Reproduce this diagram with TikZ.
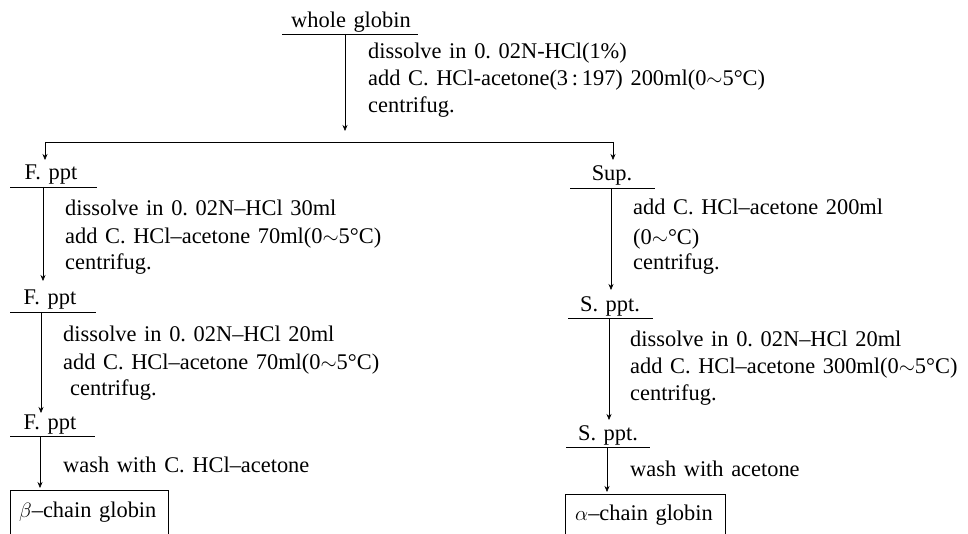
\documentclass[tikz,border=0pt]{standalone}
\usepackage{fontspec}
\setmainfont{Liberation Serif}
\usetikzlibrary{arrows.meta}
\newcommand\fsz{\fontsize{22.4}{26}\selectfont\frenchspacing\spaceskip=0.34em plus 0.1em\relax}
\tikzset{
  ttl/.style={font=\fsz, inner sep=0pt, anchor=base},
  stp/.style={font=\fsz, inner sep=0pt, anchor=base west},
  ln/.style={line width=0.6pt, black},
  arr/.style={ln, -{Stealth[length=6pt,width=5pt]}},
}
\begin{document}
\begin{tikzpicture}[x=1pt,y=-1pt]
\useasboundingbox (0,0) rectangle (968,534);

% ---- top ----
\node[ttl] (wg) at (351,28) {whole globin};
\coordinate (wgL) at (282,34); \coordinate (wgR) at (418,34);
\draw[ln] (wgL) -- (wgR);
\coordinate (a0s) at (345,34); \coordinate (a0e) at (345,131);
\draw[arr] (a0s) -- (a0e);
\node[stp] (t1) at (368,59) {dissolve in 0. 02N-HCl(1\%)};
\node[stp] (t2) at (368,86) {add C. HCl-acetone(3\,:\,197) 200ml(0$\sim$5°C)};
\node[stp] (t3) at (368,113) {centrifug.};

\coordinate (hL) at (45,142); \coordinate (hR) at (613,142);
\draw[ln] (hL) -- (hR);
\coordinate (hLe) at (45,160); \coordinate (hRe) at (613,160);
\draw[arr] (hL) -- (hLe);
\draw[arr] (hR) -- (hRe);

% ---- left column ----
\node[ttl] (f1) at (51,180) {F. ppt};
\coordinate (f1L) at (10,187); \coordinate (f1R) at (97,187);
\draw[ln] (f1L) -- (f1R);
\coordinate (a1s) at (43,187); \coordinate (a1e) at (43,281);
\draw[arr] (a1s) -- (a1e);
\node[stp] (l1) at (65,216) {dissolve in 0. 02N–HCl 30ml};
\node[stp] (l2) at (65,244) {add C. HCl–acetone 70ml(0$\sim$5°C)};
\node[stp] (l3) at (65,270) {centrifug.};

\node[ttl] (f2) at (50,305) {F. ppt};
\coordinate (f2L) at (10,312); \coordinate (f2R) at (96,312);
\draw[ln] (f2L) -- (f2R);
\coordinate (a2s) at (41,312); \coordinate (a2e) at (41,413);
\draw[arr] (a2s) -- (a2e);
\node[stp] (l4) at (63,341) {dissolve in 0. 02N–HCl 20ml};
\node[stp] (l5) at (63,369) {add C. HCl–acetone 70ml(0$\sim$5°C)};
\node[stp] (l6) at (70,395) {centrifug.};

\node[ttl] (f3) at (50,429) {F. ppt};
\coordinate (f3L) at (10,436); \coordinate (f3R) at (95,436);
\draw[ln] (f3L) -- (f3R);
\coordinate (a3s) at (40,436); \coordinate (a3e) at (40,488);
\draw[arr] (a3s) -- (a3e);
\node[stp] (l7) at (63,472) {wash with C. HCl–acetone};

\node[stp] (beta) at (19,517) {$\beta$–chain globin};
\coordinate (bTL) at (10,490); \coordinate (bTR) at (168,490);
\coordinate (bBL) at (10,534); \coordinate (bBR) at (168,534);
\draw[ln] (bBL) -- (bTL) -- (bTR) -- (bBR);

% ---- right column ----
\node[ttl] (s0) at (612,181) {Sup.};
\coordinate (s0L) at (570,188); \coordinate (s0R) at (655,188);
\draw[ln] (s0L) -- (s0R);
\coordinate (b1s) at (611,188); \coordinate (b1e) at (611,290);
\draw[arr] (b1s) -- (b1e);
\node[stp] (r1) at (633,215) {add C. HCl–acetone 200ml};
\node[stp] (r2) at (633,245) {(0$\sim$°C)};
\node[stp] (r3) at (633,270) {centrifug.};

\node[ttl] (s1) at (610,311) {S. ppt.};
\coordinate (s1L) at (568,318); \coordinate (s1R) at (653,318);
\draw[ln] (s1L) -- (s1R);
\coordinate (b2s) at (609,318); \coordinate (b2e) at (609,420);
\draw[arr] (b2s) -- (b2e);
\node[stp] (r4) at (630,346) {dissolve in 0. 02N–HCl 20ml};
\node[stp] (r5) at (630,373) {add C. HCl–acetone 300ml(0$\sim$5°C)};
\node[stp] (r6) at (630,400) {centrifug.};

\node[ttl] (s2) at (608,440) {S. ppt.};
\coordinate (s2L) at (566,447); \coordinate (s2R) at (650,447);
\draw[ln] (s2L) -- (s2R);
\coordinate (b3s) at (607,447); \coordinate (b3e) at (607,492);
\draw[arr] (b3s) -- (b3e);
\node[stp] (r7) at (630,476) {wash with acetone};

\node[stp] (alpha) at (575,520) {$\alpha$–chain globin};
\coordinate (cTL) at (565,494); \coordinate (cTR) at (725,494);
\coordinate (cBL) at (565,534); \coordinate (cBR) at (725,534);
\draw[ln] (cBL) -- (cTL) -- (cTR) -- (cBR);
\end{tikzpicture}
\end{document}
